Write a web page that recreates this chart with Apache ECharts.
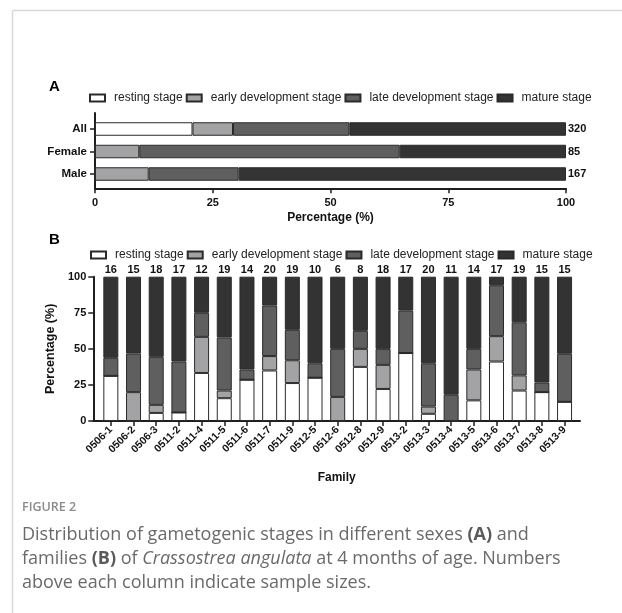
<!DOCTYPE html>
<html>
<head>
<meta charset="utf-8">
<script src="https://cdn.jsdelivr.net/npm/echarts@6/dist/echarts.min.js"></script>
<style>html,body{margin:0;padding:0;background:#fff;}#c{width:622px;height:613px;}</style>
</head>
<body>
<div id="c"></div>
<script>
const stages = ['resting stage', 'early development stage', 'late development stage', 'mature stage'];
const stageColors = ['#ffffff', '#a3a3a6', '#5f5f5f', '#333333'];

// Panel A
const groupsA = ['All', 'Female', 'Male'];
const sizesA = [320, 85, 167];
const restingA = [20.7, 0, 0];
const earlyA = [8.6, 9.4, 11.4];
const lateA = [24.7, 55.3, 19.1];
const matureA = [46.0, 35.3, 69.5];
const ticksA = [0, 25, 50, 75, 100];

// Panel B
const families = ['0506-1','0506-2','0506-3','0511-2','0511-4','0511-5','0511-6','0511-7','0511-9','0512-5','0512-6','0512-8','0512-9','0513-2','0513-3','0513-4','0513-5','0513-6','0513-7','0513-8','0513-9'];
const sizesB = [16, 15, 18, 17, 12, 19, 14, 20, 19, 10, 6, 8, 18, 17, 20, 11, 14, 17, 19, 15, 15];
const restingB = [31.3, 0, 5.6, 5.9, 33.3, 15.8, 28.6, 35, 26.3, 30, 0, 37.5, 22.2, 47.1, 5, 0, 14.3, 41.2, 21.1, 20, 13.3];
const earlyB = [0, 20, 5.6, 0, 25, 5.3, 0, 10, 15.8, 0, 16.7, 12.5, 16.7, 0, 5, 0, 21.4, 17.6, 10.5, 0, 0];
const lateB = [12.5, 26.7, 33.3, 35.3, 16.7, 36.8, 7.1, 35, 21.1, 10, 33.3, 12.5, 11.1, 29.4, 30, 18.2, 14.3, 35.3, 36.8, 6.7, 33.3];
const matureB = [56.2, 53.3, 55.5, 58.8, 25, 42.1, 64.3, 20, 36.8, 60, 50, 37.5, 50, 23.5, 60, 81.8, 50, 5.9, 31.6, 73.3, 53.4];

const FONT = '"Liberation Sans", Arial, sans-serif';
const CAP = '"Open Sans", sans-serif';
const axisCol = '#1e1e1e';

const dataA = [restingA, earlyA, lateA, matureA];
const dataB = [restingB, earlyB, lateB, matureB];

const series = [];
stages.forEach((name, i) => {
  series.push({
    name, type: 'bar', stack: 'A', xAxisIndex: 0, yAxisIndex: 0,
    barWidth: 13.5, data: dataA[i],
    itemStyle: { color: stageColors[i], borderColor: '#2a2a2a', borderWidth: 1 },
    label: i === 3 ? {
      show: true, position: 'right', distance: 2,
      formatter: p => String(sizesA[p.dataIndex]),
      fontFamily: FONT, fontWeight: 'bold', fontSize: 11, color: '#111'
    } : { show: false },
    silent: true, animation: false
  });
});
stages.forEach((name, i) => {
  series.push({
    name, type: 'bar', stack: 'B', xAxisIndex: 2, yAxisIndex: 2,
    barWidth: 15, data: dataB[i],
    itemStyle: { color: stageColors[i], borderColor: '#2a2a2a', borderWidth: 1 },
    label: i === 3 ? {
      show: true, position: 'top', distance: 1,
      formatter: p => String(sizesB[p.dataIndex]),
      fontFamily: FONT, fontWeight: 'bold', fontSize: 11, color: '#111'
    } : { show: false },
    silent: true, animation: false
  });
});

const hidden = { show: false };
const legendBase = {
  data: stages, orient: 'horizontal', icon: 'rect',
  itemWidth: 15, itemHeight: 7, itemGap: 3, padding: 0,
  textStyle: { fontFamily: FONT, fontSize: 12, color: '#222', padding: [0, 0, 0, 4] },
  selectedMode: false
};

const option = {
  animation: false,
  backgroundColor: '#fff',
  legend: [
    Object.assign({}, legendBase, { left: 89, top: 92 }),
    Object.assign({}, legendBase, { left: 90, top: 249 })
  ],
  grid: [
    { left: 95, width: 471, top: 117.75, height: 67.5 },
    { left: 95, width: 471, top: 113, height: 75.3 },
    { left: 99.5, width: 476.4, top: 276.7, height: 144.3 },
    { left: 93.3, width: 486.7, top: 276.7, height: 144.3 }
  ],
  xAxis: [
    { gridIndex: 0, type: 'value', min: 0, max: 100, show: false },
    { gridIndex: 1, type: 'value', min: ticksA[0], max: ticksA[ticksA.length - 1], interval: 25,
      axisLine: { show: true, lineStyle: { color: axisCol, width: 2 } },
      axisTick: { show: true, length: 5, lineStyle: { color: axisCol, width: 1.5 } },
      axisLabel: { fontFamily: FONT, fontWeight: 'bold', fontSize: 11, color: '#111', margin: 9 },
      splitLine: hidden,
      name: 'Percentage (%)', nameLocation: 'middle', nameGap: 23,
      nameTextStyle: { fontFamily: FONT, fontWeight: 'bold', fontSize: 12, color: '#111' } },
    { gridIndex: 2, type: 'category', data: families,
      axisLine: hidden,
      axisTick: { show: true, alignWithLabel: true, length: 5, lineStyle: { color: axisCol, width: 1.5 } },
      axisLabel: { interval: 0, rotate: 45, fontFamily: FONT, fontWeight: 'bold', fontSize: 10.5, color: '#111', margin: 7 } },
    { gridIndex: 3, type: 'value', min: 0, max: 1,
      axisLine: { show: true, lineStyle: { color: axisCol, width: 2 } },
      axisTick: hidden, axisLabel: hidden, splitLine: hidden,
      name: 'Family', nameLocation: 'middle', nameGap: 51,
      nameTextStyle: { fontFamily: FONT, fontWeight: 'bold', fontSize: 12, color: '#111' } }
  ],
  yAxis: [
    { gridIndex: 0, type: 'category', data: groupsA, inverse: true,
      axisLine: hidden,
      axisTick: { show: true, alignWithLabel: true, length: 5, lineStyle: { color: axisCol, width: 1.5 } },
      axisLabel: { fontFamily: FONT, fontWeight: 'bold', fontSize: 11.5, color: '#111', margin: 8 } },
    { gridIndex: 1, type: 'value', min: 0, max: 1,
      axisLine: { show: true, lineStyle: { color: axisCol, width: 2 } },
      axisTick: hidden, axisLabel: hidden, splitLine: hidden },
    { gridIndex: 2, type: 'value', min: 0, max: 100, show: false },
    { gridIndex: 3, type: 'value', min: 0, max: 100, interval: 25,
      axisLine: { show: true, lineStyle: { color: axisCol, width: 2 } },
      axisTick: { show: true, length: 5, lineStyle: { color: axisCol, width: 1.5 } },
      axisLabel: { fontFamily: FONT, fontWeight: 'bold', fontSize: 11, color: '#111', margin: 7 },
      splitLine: hidden,
      name: 'Percentage (%)', nameLocation: 'middle', nameGap: 27,
      nameTextStyle: { fontFamily: FONT, fontWeight: 'bold', fontSize: 12.5, color: '#111' } }
  ],
  graphic: [
    { type: 'line', shape: { x1: 12.5, y1: 10.5, x2: 622, y2: 10.5 }, style: { stroke: '#d9d9d9', lineWidth: 1.5 }, silent: true },
    { type: 'line', shape: { x1: 12.5, y1: 10.5, x2: 12.5, y2: 613 }, style: { stroke: '#d9d9d9', lineWidth: 1.5 }, silent: true },
    { type: 'text', left: 49, top: 79, style: { text: 'A', fontFamily: FONT, fontWeight: 'bold', fontSize: 15, fill: '#000' } },
    { type: 'text', left: 49, top: 232, style: { text: 'B', fontFamily: FONT, fontWeight: 'bold', fontSize: 15, fill: '#000' } },
    { type: 'text', left: 22, top: 501, style: { text: 'FIGURE 2', fontFamily: CAP, fontSize: 12.5, fontWeight: 600, fill: '#8a8a8a' } },
    { type: 'text', left: 22, top: 526, style: {
        text: 'Distribution of gametogenic stages in different sexes {b|(A)} and',
        fontFamily: CAP, fontSize: 18, fill: '#6a6a6a',
        rich: { b: { fontFamily: CAP, fontSize: 18, fontWeight: 'bold', fill: '#5a5a5a' } } } },
    { type: 'text', left: 22, top: 550, style: {
        text: 'families {b|(B)} of {i|Crassostrea angulata} at 4 months of age. Numbers',
        fontFamily: CAP, fontSize: 18, fill: '#6a6a6a',
        rich: { b: { fontFamily: CAP, fontSize: 18, fontWeight: 'bold', fill: '#5a5a5a' },
                i: { fontFamily: CAP, fontSize: 18, fontStyle: 'italic', fill: '#6a6a6a' } } } },
    { type: 'text', left: 22, top: 574, style: {
        text: 'above each column indicate sample sizes.',
        fontFamily: CAP, fontSize: 18, fill: '#6a6a6a' } }
  ],
  series
};

const chart = echarts.init(document.getElementById('c'), null, { renderer: 'canvas' });
chart.setOption(option);
</script>
</body>
</html>
